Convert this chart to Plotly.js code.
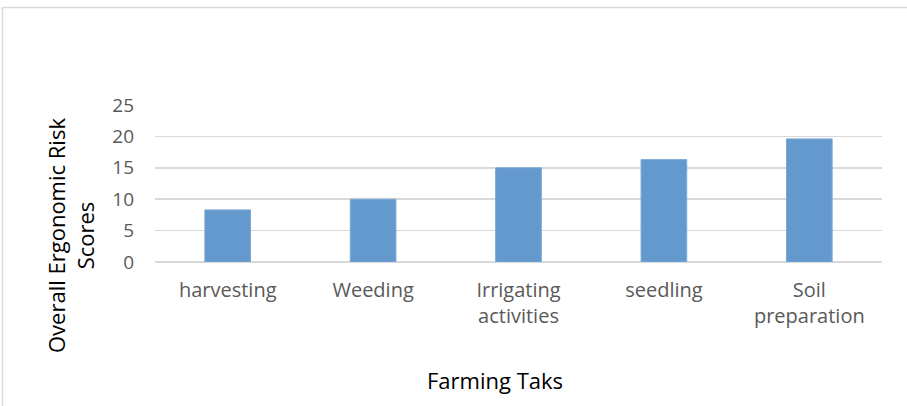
<!DOCTYPE html>
<html>
<head>
<meta charset="utf-8">
<script src="https://cdn.plot.ly/plotly-3.0.1.min.js"></script>
<style>
  html, body { margin: 0; padding: 0; background: #ffffff; }
  #chart { width: 907px; height: 406px; }
</style>
</head>
<body>
<div id="chart"></div>
<script>
// Farming tasks and their overall ergonomic risk scores
const tasks = ["harvesting", "Weeding", "Irrigating<br>activities", "seedling", "Soil<br>preparation"];
const scores = [8.3, 10.0, 15.0, 16.3, 19.6];
const yTicks = [0, 5, 10, 15, 20, 25];

const W = 907, H = 406;
const margin = { l: 155, r: 25, t: 105, b: 144 };
const plotW = W - margin.l - margin.r;
const plotH = H - margin.t - margin.b;
// pixel -> paper helpers for the frame and the titles
const px = x => (x - margin.l) / plotW;
const py = y => (H - margin.b - y) / plotH;

const font = "'Open Sans', 'Noto Sans', sans-serif";

const trace = {
  type: "bar",
  x: tasks,
  y: scores,
  marker: { color: "#6399cc", line: { color: "#7aa8d6", width: 1 } },
  hoverinfo: "x+y"
};

const layout = {
  width: W,
  height: H,
  margin: margin,
  paper_bgcolor: "#ffffff",
  plot_bgcolor: "#ffffff",
  showlegend: false,
  bargap: 0.686,
  font: { family: font, size: 20, color: "#595959" },
  xaxis: {
    type: "category",
    showgrid: false,
    zeroline: false,
    showline: false,
    ticks: "",
    ticklabelstandoff: 14,
    tickfont: { family: font, size: 20, color: "#595959" }
  },
  yaxis: {
    range: [0, 25],
    tickvals: yTicks,
    ticktext: yTicks.map(String),
    showgrid: true,
    gridcolor: "#d9d9d9",
    gridwidth: 1.5,
    zeroline: true,
    zerolinecolor: "#d9d9d9",
    zerolinewidth: 1.5,
    showline: false,
    ticks: "",
    ticklabelstandoff: 20,
    tickfont: { family: font, size: 19, color: "#595959" }
  },
  shapes: [
    {
      type: "rect",
      xref: "paper", yref: "paper",
      x0: px(2.5), x1: px(W + 10),
      y0: py(H + 10), y1: py(7.5),
      line: { color: "#d9d9d9", width: 1.5 },
      fillcolor: "rgba(0,0,0,0)",
      layer: "below"
    }
  ],
  annotations: [
    {
      text: "Overall Ergonomic Risk<br>Scores",
      xref: "paper", yref: "paper",
      x: px(70), y: py(236),
      xanchor: "center", yanchor: "middle",
      textangle: -90,
      showarrow: false,
      font: { family: font, size: 22, color: "#000000" }
    },
    {
      text: "Farming Taks",
      xref: "paper", yref: "paper",
      x: px(495), y: py(380),
      xanchor: "center", yanchor: "middle",
      showarrow: false,
      font: { family: font, size: 22, color: "#000000" }
    }
  ]
};

Plotly.newPlot("chart", [trace], layout, { displayModeBar: false, staticPlot: true });
</script>
</body>
</html>
